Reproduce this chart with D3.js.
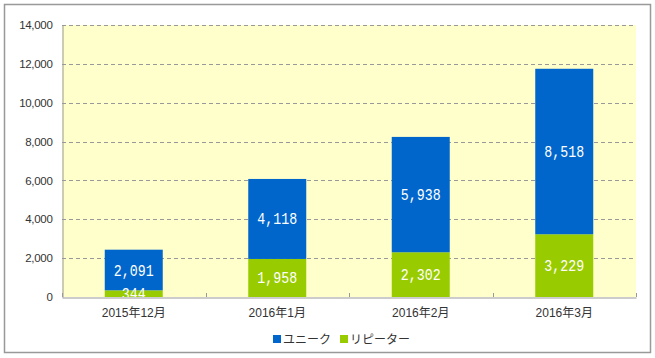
<!DOCTYPE html>
<html><head><meta charset="utf-8">
<script src="https://cdn.jsdelivr.net/npm/d3@7"></script>
<style>body{margin:0;background:#fff}svg{display:block}</style>
</head><body>
<script>
const categories = ["2015年12月","2016年1月","2016年2月","2016年3月"];
const repeater = [344, 1958, 2302, 3229];
const unique = [2091, 4118, 5938, 8518];
const seriesNames = ["ユニーク","リピーター"];
const yTicks = [0,2000,4000,6000,8000,10000,12000,14000];

const W=655,H=358;
const svg=d3.select("body").append("svg").attr("width",W).attr("height",H);
svg.append("rect").attr("x",4.5).attr("y",4.5).attr("width",646).attr("height",348)
  .attr("fill","#fff").attr("stroke","#999").attr("stroke-width",1.5);

const L=62,R=636,T=25,B=297;
const x=d3.scaleBand().domain(categories).range([L,R]).paddingInner(0).paddingOuter(0);
const y=d3.scaleLinear().domain([0,14000]).range([B,T]);

svg.append("rect").attr("x",L).attr("y",T).attr("width",R-L).attr("height",B-T).attr("fill","#ffffcc");

// gridlines
svg.append("g").selectAll("line").data(yTicks.filter(d=>d>0)).join("line")
  .attr("x1",L).attr("x2",R).attr("y1",d=>Math.round(y(d))+0.5).attr("y2",d=>Math.round(y(d))+0.5)
  .attr("stroke","#999").attr("stroke-dasharray","4,3");

// bars
const bw=58;
const data=categories.map((c,i)=>({c,r:repeater[i],u:unique[i]}));
const g=svg.append("g");
g.selectAll(".rb").data(data).join("rect")
  .attr("x",d=>x(d.c)+x.bandwidth()/2-bw/2).attr("width",bw)
  .attr("y",d=>y(d.r)).attr("height",d=>y(0)-y(d.r)).attr("fill","#99cc00");
g.selectAll(".ub").data(data).join("rect")
  .attr("x",d=>x(d.c)+x.bandwidth()/2-bw/2).attr("width",bw)
  .attr("y",d=>y(d.r+d.u)).attr("height",d=>y(d.r)-y(d.r+d.u)).attr("fill","#0066cc");

// value labels
const fmt=d3.format(",");
function lab(d,v,lo){
  const cx=x(d.c)+x.bandwidth()/2, cy=(y(lo)+y(lo+v))/2;
  return `translate(${cx},${cy+5.5}) scale(0.78,1)`;
}
g.selectAll(".rl").data(data).join("text")
  .attr("transform",d=>lab(d,d.r,0)).attr("text-anchor","middle")
  .attr("font-family","Liberation Mono").attr("font-size",17).attr("fill","#fff")
  .text(d=>fmt(d.r));
g.selectAll(".ul").data(data).join("text")
  .attr("transform",d=>lab(d,d.u,d.r)).attr("text-anchor","middle")
  .attr("font-family","Liberation Mono").attr("font-size",17).attr("fill","#fff")
  .text(d=>fmt(d.u));

// y axis
const ya=svg.append("g").attr("transform",`translate(${L+0.5},0)`)
  .call(d3.axisLeft(y).tickValues(yTicks).tickSize(0).tickPadding(10).tickFormat(d3.format(",")));
ya.select(".domain").attr("stroke","#999");
ya.selectAll("text").attr("font-family","Liberation Sans, Arial").attr("font-size",11.5).attr("fill","#333").attr("letter-spacing","-0.3");

// x axis
const xa=svg.append("g").attr("transform",`translate(0,${B+0.5})`)
  .call(d3.axisBottom(x).tickSize(0).tickPadding(11));
xa.select(".domain").attr("stroke","#999");
xa.selectAll("text").attr("font-family","Liberation Sans, Noto Sans CJK JP").attr("font-size",12).attr("fill","#333");
// boundary ticks (inward)
svg.append("g").selectAll("line").data(d3.range(categories.length+1)).join("line")
  .attr("x1",i=>Math.round(L+i*x.step())+0.5).attr("x2",i=>Math.round(L+i*x.step())+0.5)
  .attr("y1",B-4).attr("y2",B).attr("stroke","#999");

// legend
const colors=["#0066cc","#99cc00"];
const lg=svg.append("g").attr("font-family","Noto Sans CJK JP").attr("font-size",12).attr("fill","#333");
const lx=[273,340];
seriesNames.forEach((n,i)=>{
  lg.append("rect").attr("x",lx[i]).attr("y",335).attr("width",8).attr("height",8).attr("fill",colors[i]);
  lg.append("text").attr("x",lx[i]+10).attr("y",343.5).text(n);
});
</script>
</body></html>
